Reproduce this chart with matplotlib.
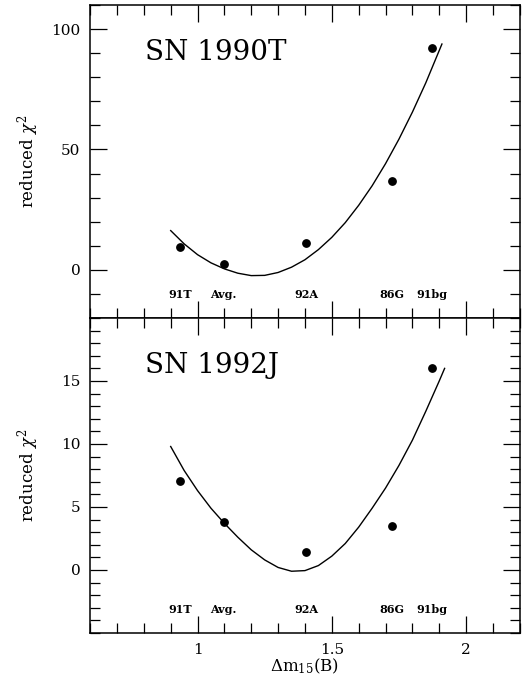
import numpy as np
import matplotlib
matplotlib.use("Agg")
import matplotlib.pyplot as plt
from matplotlib.ticker import MultipleLocator, FixedLocator
import matplotlib.transforms as mtransforms

plt.rcParams["font.family"] = ["DejaVu Serif"]
plt.rcParams["mathtext.fontset"] = "dejavuserif"

# Observed decline rates and reduced chi^2 for each template
names = ["91T", "Avg.", "92A", "86G", "91bg"]
dm15 = [0.935, 1.097, 1.405, 1.725, 1.873]
chi2_1990T = [9.3, 2.4, 11.0, 36.7, 92.0]
chi2_1992J = [7.1, 3.8, 1.45, 3.5, 16.05]

# Smooth fitted curves, read along dm15
curve_x = [0.90, 0.95, 1.00, 1.05, 1.10, 1.15, 1.20, 1.25, 1.30, 1.35, 1.40,
           1.45, 1.50, 1.55, 1.60, 1.65, 1.70, 1.75, 1.80, 1.85, 1.91]
curve_1990T = [16.3, 10.8, 6.3, 2.9, 0.4, -1.4, -2.4, -2.3, -1.1, 1.1, 4.2,
               8.4, 13.5, 19.6, 26.8, 34.9, 44.1, 54.3, 65.5, 77.7, 93.8]
curve_x2 = [0.90, 0.95, 1.00, 1.05, 1.10, 1.15, 1.20, 1.25, 1.30, 1.35, 1.40,
            1.45, 1.50, 1.55, 1.60, 1.65, 1.70, 1.75, 1.80, 1.85, 1.90, 1.92]
curve_1992J = [9.8, 7.9, 6.3, 4.9, 3.7, 2.6, 1.6, 0.8, 0.2, -0.1, -0.05,
               0.35, 1.1, 2.1, 3.4, 4.9, 6.5, 8.3, 10.3, 12.6, 15.0, 16.0]

fig = plt.figure(figsize=(5.24, 6.78), dpi=100)
ax1 = fig.add_axes([0.172, 0.531, 0.820, 0.4616])
ax2 = fig.add_axes([0.172, 0.0664, 0.820, 0.4646])

panels = [
    (ax1, chi2_1990T, curve_x, curve_1990T, "SN 1990T", (-20, 110), [0, 50, 100], 10),
    (ax2, chi2_1992J, curve_x2, curve_1992J, "SN 1992J", (-5, 20), [0, 5, 10, 15], 1),
]

for ax, pts, cx, cy, title, ylim, major, minor in panels:
    ax.plot(cx, cy, color="black", lw=1.0)
    ax.plot(dm15, pts, "o", color="black", ms=5.3)
    ax.set_xlim(0.6, 2.2)
    ax.set_ylim(*ylim)
    ax.xaxis.set_major_locator(FixedLocator([1, 1.5, 2]))
    ax.xaxis.set_minor_locator(MultipleLocator(0.1))
    ax.yaxis.set_major_locator(FixedLocator(major))
    ax.yaxis.set_minor_locator(MultipleLocator(minor))
    ax.tick_params(which="both", direction="in", top=True, right=True,
                   labelsize=11, width=0.9)
    ax.tick_params(which="major", length=12, pad=7)
    ax.tick_params(which="minor", length=7)
    for s in ax.spines.values():
        s.set_linewidth(1.1)
    ax.set_ylabel(r"reduced $\chi^{2}$", fontsize=12)
    ax.yaxis.set_label_coords(-0.114, 0.5)
    ax.text(0.128, 0.848, title, transform=ax.transAxes, fontsize=20,
            ha="left", va="center")
    trans = mtransforms.blended_transform_factory(ax.transData, ax.transAxes)
    for n, x in zip(names, dm15):
        ax.text(x, 0.075, n, transform=trans, fontsize=8, fontweight="bold",
                ha="center", va="center")

ax1.tick_params(labelbottom=False)
ax2.set_xticklabels(["1", "1.5", "2"])
ax2.set_xlabel(r"$\Delta$m$_{15}$(B)", fontsize=12, labelpad=0)

fig.savefig("out.png", dpi=100)
